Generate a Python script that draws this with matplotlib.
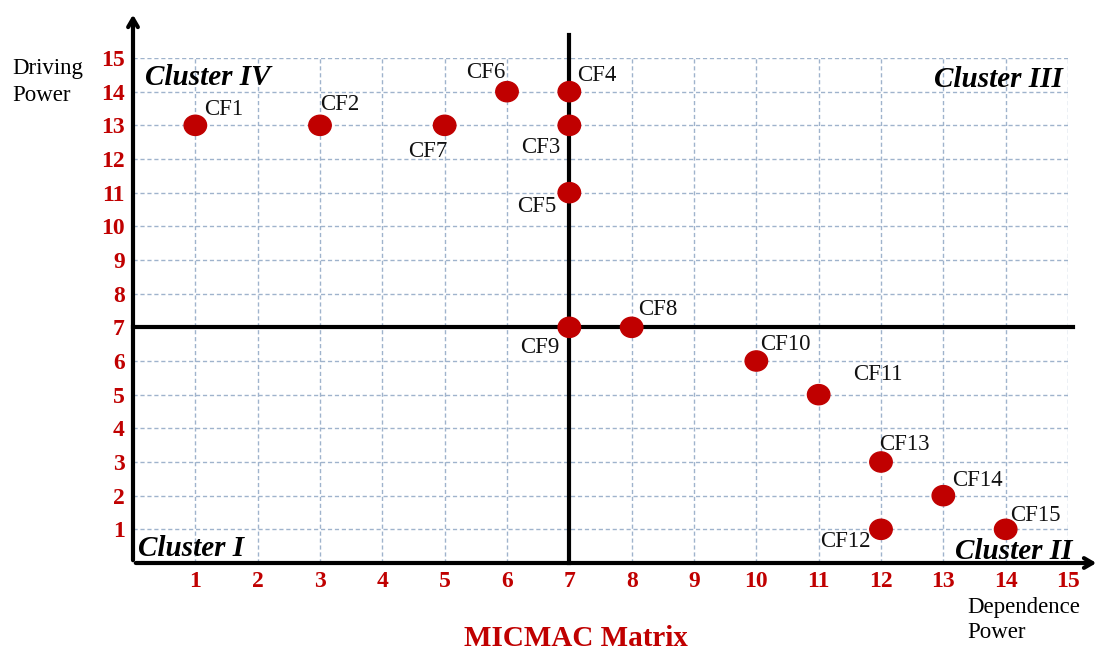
import matplotlib
matplotlib.use('Agg')
import matplotlib.pyplot as plt
from matplotlib.patches import Ellipse

# datos de la matriz MICMAC
nombres = ['CF1', 'CF2', 'CF3', 'CF4', 'CF5', 'CF6', 'CF7', 'CF8',
           'CF9', 'CF10', 'CF11', 'CF12', 'CF13', 'CF14', 'CF15']
dependencia = [1, 3, 7, 7, 7, 6, 5, 8, 7, 10, 11, 12, 12, 13, 14]
influencia = [13, 13, 13, 14, 11, 14, 13, 7, 7, 6, 5, 1, 3, 2, 1]
ticks = list(range(1, 16))
clusters = ['Cluster I', 'Cluster II', 'Cluster III', 'Cluster IV']

# donde va cada etiqueta (pixeles respecto al punto, centro vertical del texto)
offs = {'CF1': (9, 16, 'left'), 'CF2': (0, 21, 'left'), 'CF3': (-9, -22, 'right'),
        'CF4': (8, 16, 'left'), 'CF5': (-13, -14, 'right'), 'CF6': (-2, 19, 'right'),
        'CF7': (3, -26, 'right'), 'CF8': (6, 18, 'left'), 'CF9': (-10, -20, 'right'),
        'CF10': (4, 17, 'left'), 'CF11': (34, 20, 'left'), 'CF12': (-10, -12, 'right'),
        'CF13': (-2, 18, 'left'), 'CF14': (9, 15, 'left'), 'CF15': (4, 14, 'left')}

rojo = '#c00000'
serif = 'Liberation Serif'

fig = plt.figure(figsize=(11.02, 6.53), dpi=100)
ax = fig.add_axes([133/1102, 90/653, 935/1102, 505/653])
ax.set_xlim(0, 15)
ax.set_ylim(0, 15)
for s in ax.spines.values():
    s.set_visible(False)

ax.set_xticks(ticks)
ax.set_yticks(ticks)
ax.grid(True, color='#9fb3cc', linestyle='--', linewidth=1, dashes=(3, 2))
ax.tick_params(length=0, pad=6)
for lab in ax.get_xticklabels() + ax.get_yticklabels():
    lab.set_color(rojo)
    lab.set_fontweight('bold')
    lab.set_fontfamily(serif)
    lab.set_fontsize(17)

# ejes con flecha
ax.annotate('', xy=(0, 16.37), xytext=(0, 0), annotation_clip=False,
            arrowprops=dict(arrowstyle='->,head_length=0.6,head_width=0.35', lw=3, color='black'))
ax.annotate('', xy=(15.5, 0), xytext=(0, 0), annotation_clip=False,
            arrowprops=dict(arrowstyle='->,head_length=0.6,head_width=0.35', lw=3, color='black'))
# lineas que separan los cuadrantes
ax.plot([7, 7], [0, 15.68], color='black', lw=3, clip_on=False, zorder=3)
ax.plot([0, 15.08], [7, 7], color='black', lw=3, clip_on=False, zorder=3)

for n, x, y in zip(nombres, dependencia, influencia):
    e = Ellipse((x, y), width=0.36, height=0.6, color=rojo, zorder=4, clip_on=False)
    ax.add_patch(e)
    dx, dy, ha = offs[n]
    ax.annotate(n, (x, y), xytext=(dx, dy), textcoords='offset pixels', ha=ha, va='center',
                fontsize=16.5, family=serif, color='#111111', zorder=5)

kw = dict(fontsize=21, family=serif, fontweight='bold', fontstyle='italic', color='black')
ax.text(0.08, 0.43, clusters[0], ha='left', va='center', **kw)
ax.text(15.07, 0.34, clusters[1], ha='right', va='center', **kw)
ax.text(14.92, 14.37, clusters[2], ha='right', va='center', **kw)
ax.text(0.19, 14.43, clusters[3], ha='left', va='center', **kw)

fig.text(12/1102, 1 - 82/653, 'Driving\nPower', ha='left', va='center', fontsize=16.5,
         family=serif, linespacing=1.4)
fig.text(967/1102, 1 - 620/653, 'Dependence\nPower', ha='left', va='center', fontsize=16.5,
         family=serif, linespacing=1.3)
fig.text(576/1102, 1 - 638/653, 'MICMAC Matrix', ha='center', va='center', fontsize=21,
         family=serif, fontweight='bold', color=rojo)

fig.savefig('out.png', dpi=100)
